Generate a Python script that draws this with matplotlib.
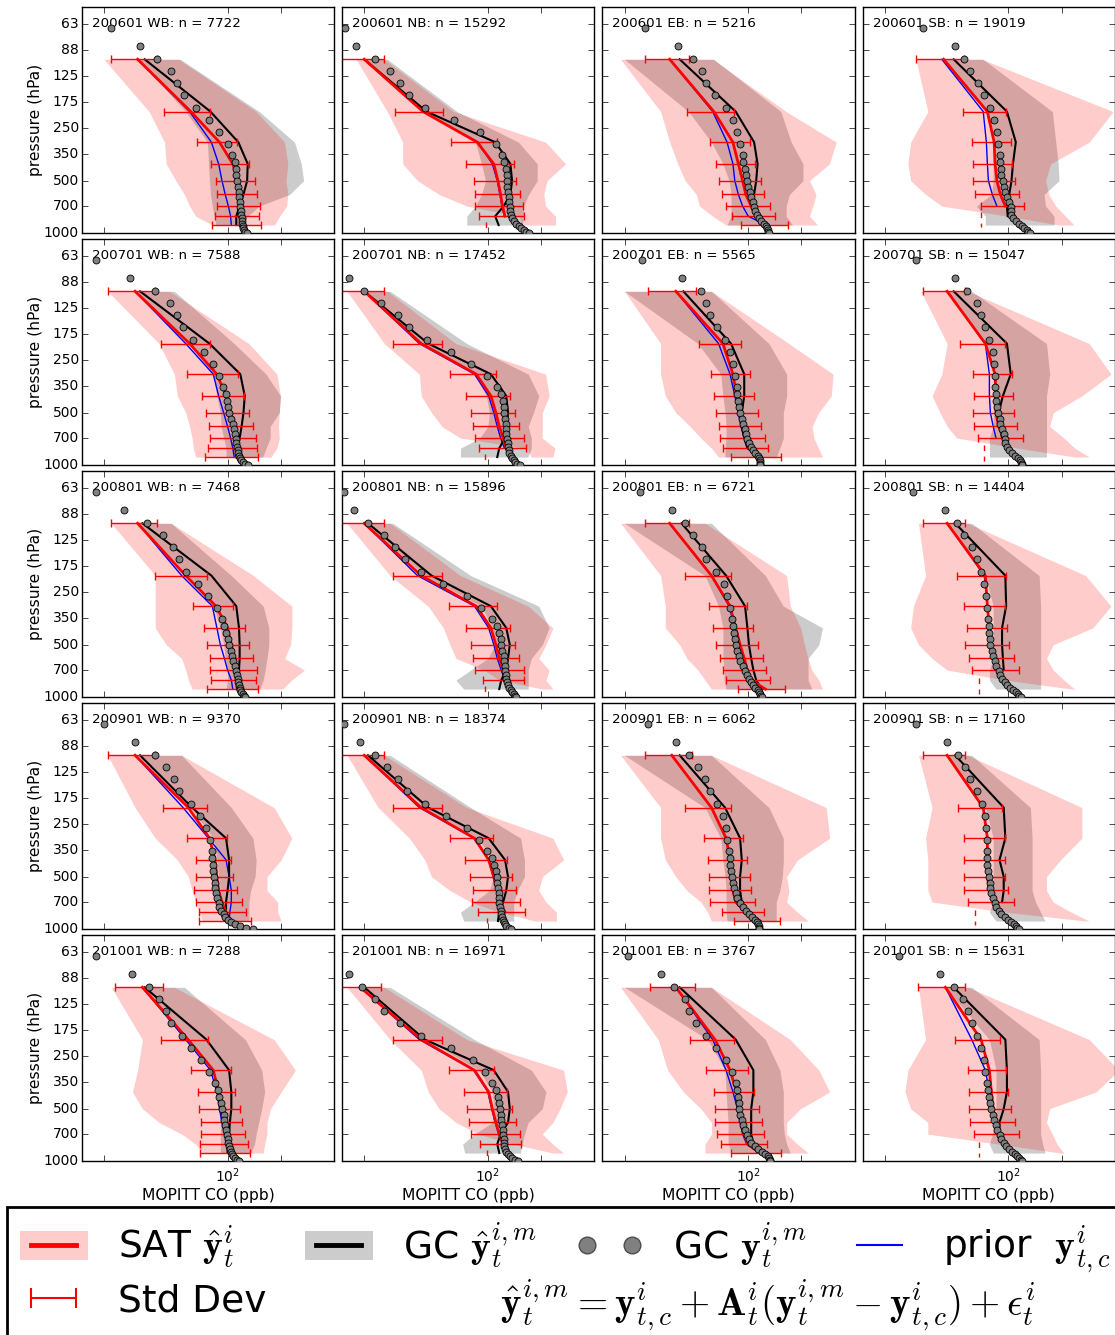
import numpy as np
import matplotlib
matplotlib.use("Agg")
import matplotlib.pyplot as plt
from matplotlib.lines import Line2D
from matplotlib.patches import Patch, Rectangle
from matplotlib.ticker import NullLocator

plt.style.use("classic")
plt.rcParams["mathtext.fontset"] = "cm"
plt.rcParams["font.family"] = ["DejaVu Sans"]

nan = np.nan

MONTHS = ["200601", "200701", "200801", "200901", "201001"]
REGIONS = ["WB", "NB", "EB", "SB"]
N_OBS = [[7722, 15292, 5216, 19019],
         [7588, 17452, 5565, 15047],
         [7468, 15896, 6721, 14404],
         [9370, 18374, 6062, 17160],
         [7288, 16971, 3767, 15631]]

# MOPITT retrieval levels (hPa)
P_SAT = [100, 200, 300, 400, 500, 600, 700, 800, 900]
# model levels (hPa)
P_GC = [66, 84, 99, 117, 137, 161, 190, 223, 263, 308, 354, 391, 427, 463, 500, 540, 580,
        620, 665, 710, 750, 790, 825, 858, 888, 915, 940, 962, 982, 1000]

# one row per panel: 2006 WB NB EB SB, 2007 WB ..., 2010 SB
SAT_MEAN = [
    [31, 62, 90, 107, 114, 117, 120, 118, 118],
    [20, 43, 87, 108, 114, 118, 121, 125, nan],
    [36, 64, 82, 88, 93, 97, 104, 111, 129],
    [43, 76, 83, 84, 86, 90, 96, nan, nan],
    [30, 61, 87, 98, 104, 109, 112, 112, 112],
    [20, 42, 86, 104, 111, 116, 122, 127, nan],
    [39, 72, 82, 86, 90, 93, 97, 101, 117],
    [45, 74, 84, 85, 85, 88, 94, nan, nan],
    [31, 58, 86, 100, 105, 110, 113, 113, 113],
    [20, 42, 86, 104, 111, 116, 122, 127, nan],
    [36, 62, 79, 85, 90, 95, 99, 104, 125],
    [45, 74, 76, 78, 79, 84, 88, nan, nan],
    [30, 60, 79, 85, 87, 89, 93, 98, 102],
    [20, 42, 84, 101, 108, 113, 116, 125, nan],
    [37, 62, 75, 79, 81, 82, 85, 97, 117],
    [45, 72, 76, 76, 76, 78, 83, nan, nan],
    [33, 60, 83, 89, 93, 96, 98, 100, 102],
    [19, 42, 84, 101, 106, 111, 116, 122, nan],
    [39, 65, 79, 86, 90, 92, 95, 99, 117],
    [44, 70, 78, 80, 82, 85, 89, nan, nan],
]
SAT_STD = [
    [9, 18, 23, 26, 28, 30, 33, 33, 36],
    [6, 13, 25, 33, 31, 33, 36, 36, nan],
    [10, 19, 21, 22, 25, 26, 29, 30, 38],
    [13, 21, 21, 21, 23, 25, 26, nan, nan],
    [9, 19, 28, 26, 28, 30, 32, 34, 37],
    [6, 13, 25, 29, 31, 34, 37, 38, nan],
    [12, 19, 20, 22, 24, 25, 28, 29, 37],
    [12, 21, 21, 21, 22, 24, 27, nan, nan],
    [9, 19, 22, 26, 28, 30, 33, 32, 36],
    [6, 13, 26, 29, 31, 34, 37, 33, nan],
    [10, 18, 19, 22, 24, 26, 27, 29, 37],
    [12, 23, 20, 20, 22, 24, 26, nan, nan],
    [9, 17, 20, 19, 21, 24, 27, 29, 33],
    [6, 13, 23, 27, 29, 31, 35, 37, nan],
    [11, 18, 19, 20, 21, 22, 24, 26, 34],
    [12, 20, 20, 20, 20, 22, 24, nan, nan],
    [10, 18, 21, 21, 24, 25, 27, 30, 32],
    [6, 13, 24, 28, 30, 33, 36, 32, nan],
    [11, 18, 21, 22, 25, 27, 28, 29, 37],
    [13, 20, 19, 20, 22, 24, 25, nan, nan],
]
SAT_LO = [
    [20, 36, 44, 45, 51, 57, 61, 66, 82],
    [18, 27, 33, 33, 40, 53, 76, 150, 156],
    [19, 32, 36, 40, 44, 51, 53, 63, 75],
    [30, 35, 28, 27, 28, 34, 42, 99, 193],
    [21, 41, 50, 52, 58, 61, 63, 64, 66],
    [16, 26, 41, 42, 48, 55, 70, 165, 176],
    [20, 32, 32, 34, 39, 47, 54, 62, 68],
    [32, 45, 42, 37, 41, 45, 51, 113, 237],
    [22, 39, 39, 39, 45, 55, 58, 60, 63],
    [16, 28, 46, 56, 61, 66, 95, 116, 203],
    [19, 32, 34, 34, 41, 45, 52, 57, 62],
    [31, 34, 29, 28, 31, 37, 45, 97, 226],
    [21, 30, 39, 52, 60, 63, 66, 69, 72],
    [16, 24, 36, 44, 48, 61, 80, 116, 185],
    [19, 32, 32, 34, 39, 45, 54, 59, 62],
    [31, 37, 34, 35, 35, 35, 37, 96, 273],
    [22, 33, 31, 29, 33, 41, 55, 66, 72],
    [16, 28, 42, 46, 53, 66, 88, 140, 233],
    [19, 31, 35, 43, 54, 62, 62, 57, 57],
    [31, 34, 27, 26, 28, 35, 35, 88, 197],
]
SAT_HI = [
    [53, 145, 210, 219, 214, 219, 216, 197, 184],
    [26, 64, 212, 275, 216, 207, 212, 241, 241],
    [63, 164, 315, 288, 222, 242, 232, 222, 247],
    [71, 390, 286, 173, 162, 169, 185, 210, 235],
    [47, 132, 190, 199, 196, 194, 196, 190, 176],
    [27, 66, 212, 222, 203, 203, 203, 240, 233],
    [62, 170, 302, 295, 250, 230, 235, 250, 263],
    [59, 286, 380, 260, 179, 171, 206, 237, 286],
    [48, 140, 231, 231, 227, 210, 272, 230, 205],
    [28, 70, 169, 233, 213, 194, 222, 213, 233],
    [57, 165, 173, 198, 208, 218, 229, 251, 263],
    [59, 273, 380, 300, 179, 164, 179, 206, 237],
    [55, 183, 231, 201, 167, 167, 192, 192, 201],
    [26, 76, 233, 268, 203, 194, 213, 244, 244],
    [62, 276, 289, 190, 165, 170, 165, 190, 218],
    [59, 260, 260, 197, 164, 164, 179, 226, 286],
    [50, 183, 242, 201, 175, 167, 167, 162, 159],
    [26, 76, 268, 281, 256, 233, 203, 233, 268],
    [62, 173, 251, 289, 198, 165, 165, 190, 218],
    [59, 286, 420, 313, 171, 164, 177, 188, 206],
]
PRIOR = [
    [31, 61, 81, 89, 93, 97, 101, 104, 105],
    [20, 43, 88, 106, 113, 117, 120, 124, nan],
    [36, 63, 76, 82, 84, 88, 93, 100, 126],
    [42, 72, 75, 76, 77, 81, 86, nan, nan],
    [30, 58, 83, 89, 95, 100, 104, 107, 109],
    [20, 41, 84, 101, 108, 113, 118, 124, nan],
    [39, 68, 79, 84, 88, 91, 95, 100, 116],
    [45, 74, 78, 78, 79, 82, 85, nan, nan],
    [31, 55, 82, 87, 91, 96, 100, 105, 107],
    [20, 40, 84, 101, 108, 113, 119, 125, nan],
    [36, 62, 78, 84, 89, 93, 97, 102, 122],
    [45, 73, 76, 77, 79, 83, 87, nan, nan],
    [30, 56, 78, 98, 102, 105, 105, 103, 102],
    [20, 41, 83, 101, 107, 112, 117, 123, nan],
    [37, 62, 75, 79, 81, 82, 85, 97, 117],
    [45, 72, 76, 76, 77, 78, 84, nan, nan],
    [33, 58, 80, 87, 90, 93, 96, 99, 100],
    [19, 41, 83, 100, 105, 110, 115, 121, nan],
    [39, 63, 75, 82, 87, 90, 93, 98, 116],
    [44, 62, 74, 78, 80, 83, 88, nan, nan],
]
GC_HAT = [
    [34, 80, 115, 130, 129, 123, 117, 112, 112],
    [20, 45, 110, 134, 137, 134, 123, 110, 115],
    [41, 85, 108, 113, 111, 108, 107, 111, 129],
    [49, 98, 110, 106, 104, 101, 98, 99, nan],
    [32, 79, 118, 125, 123, 120, 117, 114, 112],
    [20, 46, 104, 127, 130, 128, 125, 116, 113],
    [43, 80, 95, 95, 92, 92, 95, 99, 117],
    [49, 98, 103, 93, 88, 89, 92, nan, nan],
    [33, 81, 112, 116, 117, 117, 116, 115, 114],
    [21, 48, 104, 127, 133, 130, 127, 119, 116],
    [42, 75, 96, 99, 101, 104, 107, 111, 119],
    [50, 96, 97, 92, 92, 93, 94, nan, nan],
    [32, 63, 98, 102, 102, 100, 98, 98, 98],
    [21, 46, 101, 125, 130, 127, 122, 116, 114],
    [41, 74, 90, 92, 90, 90, 92, 99, 117],
    [50, 94, 96, 89, 94, 94, 92, nan, nan],
    [34, 76, 102, 105, 105, 103, 102, 101, 100],
    [20, 44, 108, 130, 133, 130, 118, 113, 116],
    [41, 85, 107, 107, 104, 104, 104, 107, 119],
    [49, 96, 98, 98, 94, 89, 89, nan, nan],
]
GC_LO = [
    [31, 58, 77, 78, 79, 80, 82, 84, 86],
    [20, 43, 85, 92, 97, 92, 85, 76, 76],
    [20, 46, 62, 72, 78, 80, 80, 80, 76],
    [42, 74, 82, 82, 82, 80, 66, 74, 74],
    [30, 60, 83, 87, 91, 92, 95, 98, 98],
    [20, 43, 84, 98, 102, 100, 90, 70, 70],
    [20, 52, 70, 72, 74, 75, 75, 74, 74],
    [45, 74, 82, 82, 82, 82, 78, 78, 78],
    [31, 60, 83, 91, 95, 97, 100, 100, 98],
    [20, 44, 92, 106, 110, 100, 80, 66, 73],
    [20, 57, 68, 72, 72, 72, 73, 73, 75],
    [45, 74, 82, 82, 82, 82, 78, 78, 85],
    [31, 62, 83, 87, 89, 91, 93, 93, 95],
    [20, 44, 88, 106, 108, 102, 84, 70, 73],
    [20, 57, 70, 72, 74, 75, 75, 75, 76],
    [45, 74, 82, 82, 82, 82, 82, 78, 85],
    [33, 62, 83, 87, 89, 91, 91, 91, 91],
    [20, 45, 89, 106, 108, 106, 84, 72, 74],
    [20, 59, 74, 75, 76, 77, 77, 77, 81],
    [44, 78, 85, 85, 85, 85, 81, 78, 82],
]
GC_HI = [
    [54, 151, 239, 261, 269, 224, 151, 130, 122],
    [27, 67, 149, 190, 190, 170, 159, 159, 156],
    [64, 153, 175, 204, 204, 171, 164, 164, 178],
    [72, 177, 185, 191, 193, 159, 162, 181, 181],
    [50, 109, 165, 199, 196, 174, 174, 165, 158],
    [28, 76, 169, 194, 181, 169, 176, 176, 168],
    [62, 131, 165, 165, 158, 158, 158, 151, 144],
    [62, 164, 171, 164, 164, 164, 164, 164, 164],
    [48, 105, 159, 171, 171, 167, 163, 159, 152],
    [29, 80, 194, 222, 203, 176, 169, 169, 169],
    [62, 125, 158, 263, 251, 218, 218, 218, 229],
    [62, 149, 152, 152, 152, 152, 152, 152, 152],
    [55, 105, 139, 145, 143, 135, 132, 132, 132],
    [28, 80, 153, 161, 161, 147, 140, 140, 140],
    [62, 131, 158, 158, 156, 151, 144, 144, 144],
    [62, 133, 136, 136, 136, 136, 142, 152, 161],
    [57, 126, 156, 162, 156, 150, 145, 142, 135],
    [28, 84, 176, 213, 203, 169, 161, 156, 153],
    [62, 125, 151, 158, 158, 158, 160, 165, 173],
    [62, 149, 152, 152, 152, 152, 152, 156, 161],
]
GC_PROF = [
    [22, 32, 40, 48, 52, 57, 66, 79, 90, 100, 106, 110, 111, 112, 113, 114, 116,
     116, 117, 118, 119, 119, 120, 120, 121, 122, 123, 124, 126, 128],
    [15.5, 18, 23, 28, 32, 36, 44, 64, 90, 111, 120, 124, 126, 128, 128, 129, 130,
     131, 132, 133, 134, 135, 137, 140, 144, 149, 154, 159, 164, 170],
    [26, 40, 49, 55, 58, 65, 75, 82, 87, 90, 93, 94, 96, 97, 98, 100, 102,
     104, 106, 108, 110, 112, 115, 118, 123, 126, 128, 129, 130, 131],
    [33, 50, 56, 61, 67, 73, 79, 83, 86, 87, 89, 90, 91, 91, 93, 94, 96,
     98, 101, 103, 103, 104, 106, 110, 115, 120, 123, 127, 129, 132],
    [18, 28, 39, 47, 52, 56, 64, 74, 83, 89, 94, 98, 99, 101, 102, 104, 107,
     109, 110, 111, 112, 113, 114, 115, 116, 117, 119, 122, 126, 130],
    [13, 16.5, 20, 25, 31, 36, 45, 62, 80, 99, 113, 118, 122, 123, 124, 125, 126,
     127, 127, 129, 130, 130, 131, 132, 135, 137, 140, 142, 147, 151],
    [25, 42, 54, 58, 61, 67, 74, 79, 82, 84, 86, 87, 88, 89, 90, 92, 94,
     96, 97, 99, 101, 104, 107, 110, 113, 115, 116, 117, 117, 117],
    [30, 50, 58, 66, 70, 74, 78, 82, 83, 84, 84, 85, 85, 86, 87, 89, 90,
     92, 94, 96, 96, 98, 101, 105, 109, 113, 116, 118, 119, 120],
    [18, 26, 35, 43, 49, 53, 58, 68, 78, 87, 93, 96, 98, 100, 102, 104, 106,
     108, 110, 112, 113, 114, 115, 116, 117, 118, 119, 122, 124, 126],
    [15.4, 17.6, 21, 26, 30, 34, 42, 56, 76, 92, 106, 113, 116, 118, 119, 120, 123,
     124, 125, 125, 126, 127, 129, 130, 132, 135, 137, 140, 142, 145],
    [24.5, 37, 44, 49, 55, 58, 66, 73, 76, 79, 81, 82, 83, 84, 85, 87, 89,
     90, 93, 96, 98, 101, 104, 107, 110, 113, 115, 117, 118, 119],
    [29, 44, 51, 56, 62, 66, 70, 73, 75, 76, 77, 78, 78, 79, 79, 81, 82,
     84, 85, 88, 89, 92, 95, 98, 102, 106, 110, 113, 115, 117],
    [20, 30, 39, 45, 50, 53, 62, 70, 76, 80, 82, 82, 83, 83, 84, 85, 85,
     86, 87, 89, 90, 92, 95, 97, 100, 105, 110, 118, 127, 139],
    [15.4, 19, 23, 27, 31, 35, 44, 58, 76, 89, 99, 106, 109, 111, 112, 113, 114,
     115, 116, 116, 117, 118, 119, 120, 122, 123, 125, 127, 131, 135],
    [27, 39, 46, 52, 57, 61, 67, 72, 75, 76, 78, 79, 79, 80, 81, 82, 83,
     85, 87, 90, 94, 97, 101, 105, 109, 112, 114, 115, 115, 115],
    [30, 45, 52, 57, 61, 66, 71, 74, 75, 76, 76, 76, 76, 77, 78, 79, 79,
     80, 82, 84, 85, 88, 91, 95, 99, 103, 107, 110, 112, 114],
    [18, 29, 36, 41, 45, 48, 55, 62, 71, 79, 85, 88, 90, 92, 93, 95, 96,
     97, 98, 99, 100, 101, 102, 103, 104, 106, 108, 110, 113, 116],
    [13, 16.4, 19.4, 23, 26, 32, 42, 62, 82, 96, 106, 111, 114, 116, 117, 118, 119,
     120, 122, 122, 123, 123, 124, 125, 127, 130, 133, 137, 142, 148],
    [21, 32, 38, 44, 46, 51, 58, 66, 75, 81, 85, 86, 88, 89, 89, 90, 92,
     94, 96, 98, 101, 104, 109, 114, 119, 125, 129, 131, 132, 133],
    [24, 41, 49, 55, 59, 62, 66, 70, 73, 74, 76, 77, 78, 79, 80, 82, 83,
     85, 86, 89, 91, 94, 97, 101, 105, 109, 112, 115, 117, 119],
]
# surface-level retrieval marks (dashed), nan where absent
SFC_X = [nan, 97, nan, 70, nan, 96, nan, 73, nan, 96, nan, 68,
         nan, 99, nan, 65, nan, 99, nan, 68]
SFC_TOP = [nan, 870, nan, 760, nan, 870, nan, 770, nan, 870, nan, 775,
           nan, 870, nan, 775, nan, 870, nan, 775]
SFC_BOT = [nan, 945, nan, 920, nan, 930, nan, 950, nan, 930, nan, 955,
           nan, 920, nan, 950, nan, 950, nan, 950]

P_TICKS = [63, 88, 125, 175, 250, 350, 500, 700, 1000]

W, H = 1115.0, 1335.0
fig = plt.figure(figsize=(W / 100, H / 100), dpi=100)
fig.patch.set_facecolor("white")

for r in range(5):
    for c in range(4):
        k = 4 * r + c
        x0 = 81.8 + 260.3 * c
        ytop = 7 + 232 * r
        ax = fig.add_axes([x0 / W, 1 - (ytop + 226) / H, 252.3 / W, 226 / H])

        ax.fill_betweenx(P_SAT, GC_LO[k], GC_HI[k], color="k", alpha=0.2, lw=0)
        ax.fill_betweenx(P_SAT, SAT_LO[k], SAT_HI[k], color="r", alpha=0.2, lw=0)
        ax.plot(PRIOR[k], P_SAT, color="b", lw=1)
        ax.plot(GC_HAT[k], P_SAT, color="k", lw=1.5)
        ax.plot(SAT_MEAN[k], P_SAT, color="r", lw=2)
        ok = ~np.isnan(np.array(SAT_MEAN[k], dtype=float))
        ax.errorbar(np.array(SAT_MEAN[k])[ok], np.array(P_SAT)[ok],
                    xerr=np.array(SAT_STD[k])[ok], fmt="none", ecolor="r",
                    elinewidth=1, capsize=3, capthick=1)
        if not np.isnan(SFC_X[k]):
            ax.plot([SFC_X[k], SFC_X[k]], [SFC_TOP[k], SFC_BOT[k]], "r--", lw=1,
                    dashes=(4, 4))
        ax.plot(GC_PROF[k], P_GC, ls="none", marker="o", mfc="0.5", mec="k",
                ms=5, mew=0.6, zorder=4)

        ax.text(0.04, 0.925, "%s %s: n = %d" % (MONTHS[r], REGIONS[c], N_OBS[r][c]),
                transform=ax.transAxes, fontsize=9.6, ha="left", va="center")

        ax.set_xscale("log")
        ax.set_yscale("log")
        ax.set_xlim(15, 400)
        ax.set_ylim(1000, 50)
        ax.set_xticks([20, 100, 200])
        ax.set_yticks(P_TICKS)
        ax.xaxis.set_minor_locator(NullLocator())
        ax.yaxis.set_minor_locator(NullLocator())
        ax.tick_params(direction="in", top=True, right=True, length=4, labelsize=10)
        ax.tick_params(axis="y", pad=2)

        if c == 0:
            ax.set_yticklabels([str(p) for p in P_TICKS])
            ax.set_ylabel("pressure (hPa)", fontsize=11.2, labelpad=1)
        else:
            ax.set_yticklabels([])
        if r == 4:
            ax.set_xticklabels(["", r"$\mathdefault{10^{2}}$", ""])
            ax.set_xlabel("MOPITT CO (ppb)", fontsize=11.2, labelpad=2)
        else:
            ax.set_xticklabels([])

# legend
sat_h = (Patch(facecolor="r", alpha=0.2, lw=0), Line2D([], [], color="r", lw=3.5))
gc_h = (Patch(facecolor="k", alpha=0.2, lw=0), Line2D([], [], color="k", lw=3.5))
std_h = Line2D([], [], color="r", lw=1.5, marker="|", ms=15, mew=1.5)
circ_h = Line2D([], [], ls="none", marker="o", mfc="0.5", mec="0.3", ms=12, mew=1)
prior_h = Line2D([], [], color="b", lw=1.5)
labels = [r"SAT $\hat{\mathbf{y}}_t^i$", "Std Dev",
          r"GC $\hat{\mathbf{y}}_t^{i,m}$", r"GC $\mathbf{y}_t^{i,m}$",
          r"prior  $\mathbf{y}_{t,c}^i$"]
fig.legend([sat_h, std_h, gc_h, circ_h, prior_h], labels,
           loc="upper left", bbox_to_anchor=(7 / W, 1 - 1207 / H), ncol=4,
           fontsize=27, numpoints=2, handlelength=1.8, handleheight=0.8,
           handletextpad=0.8, columnspacing=1.04, labelspacing=0.35,
           borderpad=0.35, borderaxespad=0, frameon=False)
fig.add_artist(Rectangle((7 / W, -0.05), 1.2, 1 - 1207 / H + 0.05,
                         transform=fig.transFigure, fill=False, lw=2, ec="k"))
fig.text(500 / W, 1 - 1305 / H,
         r"$\hat{\mathbf{y}}_t^{i,m} = \mathbf{y}_{t,c}^i + \mathbf{A}_t^i"
         r"(\mathbf{y}_t^{i,m} - \mathbf{y}_{t,c}^i) + \epsilon_t^i$",
         fontsize=28, ha="left", va="center")

fig.savefig("out.png", dpi=100, facecolor="white")
